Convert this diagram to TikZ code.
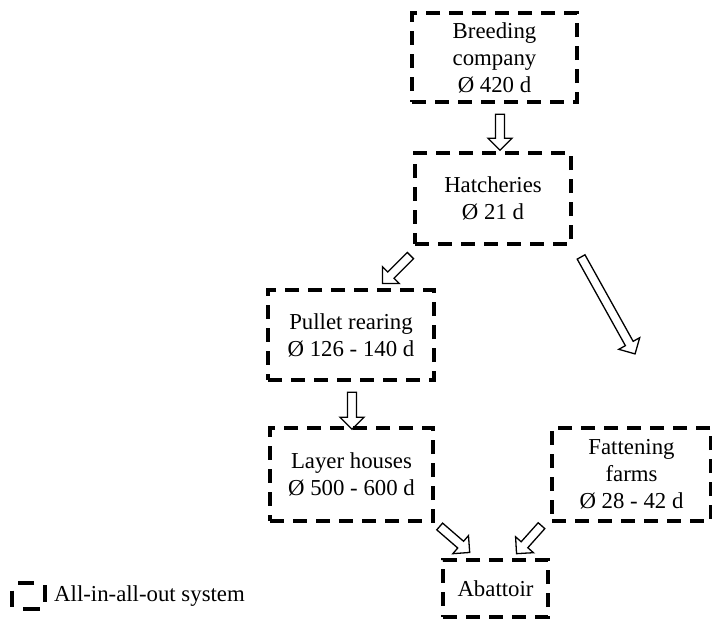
\documentclass[tikz,border=0pt]{standalone}
\usepackage{fontspec}
\setmainfont{Liberation Serif}
\usetikzlibrary{shapes.arrows}

\begin{document}
\begin{tikzpicture}[x=1pt,y=-1pt,
  box/.style={draw, line width=3.5pt, dash pattern=on 14pt off 9pt, align=center, inner sep=0pt, font=\fontsize{22.8}{27}\selectfont},
  hollow/.style={draw, single arrow, line width=1.3pt, inner sep=3.8pt, single arrow head extend=7.5pt, single arrow tip angle=90, sloped, allow upside down}]
\useasboundingbox (0,0) rectangle (712,619);

\node[box, minimum width=165pt, minimum height=89pt] (breed) at (494.5,57.5) {Breeding\\company\\Ø 420 d};
\node[box, minimum width=156pt, minimum height=91pt] (hatch) at (493,198.5) {Hatcheries\\Ø 21 d};
\node[box, minimum width=166pt, minimum height=90pt] (pullet) at (351,335) {Pullet rearing\\Ø 126 - 140 d};
\node[box, minimum width=163pt, minimum height=93pt] (layer) at (351.5,474.5) {Layer houses\\Ø 500 - 600 d};
\node[box, minimum width=159pt, minimum height=93pt] (fatten) at (631.5,474.5) {Fattening\\farms\\Ø 28 - 42 d};
\node[box, minimum width=105pt, minimum height=57pt] (abat) at (495.5,588.5) {Abattoir};

\node[box, minimum width=33pt, minimum height=26pt, dash pattern=on 16.5pt off 13pt, dash phase=18.5pt] (legbox) at (28.5,596) {};
\node[anchor=west, inner sep=0pt, font=\fontsize{22.8}{27}\selectfont] (legtext) at (54,596) {All-in-all-out system};

\coordinate (t1) at (500,112);
\coordinate (h1) at (500,148);
\coordinate (t2) at (412,254);
\coordinate (h2) at (384,282);
\coordinate (t3) at (580,255);
\coordinate (h3) at (634,352);
\coordinate (t4) at (352,390);
\coordinate (h4) at (352,427);
\coordinate (t5) at (438,525);
\coordinate (h5) at (468,551);
\coordinate (t6) at (543,524);
\coordinate (h6) at (518,552);

\path (t1) -- node[hollow, minimum height=36pt] {} (h1);
\path (t2) -- node[hollow, minimum height=39.6pt] {} (h2);
\path (t3) -- node[hollow, minimum height=111pt] {} (h3);
\path (t4) -- node[hollow, minimum height=37pt] {} (h4);
\path (t5) -- node[hollow, minimum height=39.7pt] {} (h5);
\path (t6) -- node[hollow, minimum height=37.5pt] {} (h6);

\end{tikzpicture}
\end{document}
